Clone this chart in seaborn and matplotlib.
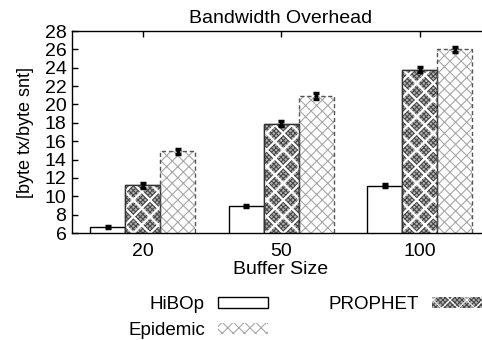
import numpy as np
import pandas as pd
import matplotlib
matplotlib.use("Agg")
import matplotlib.pyplot as plt
import seaborn as sns
from matplotlib.patches import Patch, Rectangle

buffer_sizes = ["20", "50", "100"]
protocols = ["HiBOp", "PROPHET", "Epidemic"]
hibop = [6.65, 8.9, 11.15]
prophet = [11.2, 17.9, 23.8]
epidemic = [14.9, 20.9, 26.0]
hibop_err = [0.1, 0.1, 0.15]
prophet_err = [0.25, 0.25, 0.25]
epidemic_err = [0.3, 0.3, 0.3]
yticks = list(range(6, 29, 2))

sns.set_theme(style="white")
plt.rcParams["font.family"] = ["Liberation Sans", "DejaVu Sans"]
plt.rcParams["hatch.linewidth"] = 0.8

df = pd.DataFrame({
    "Buffer Size": buffer_sizes * 3,
    "protocol": np.repeat(protocols, 3),
    "value": hibop + prophet + epidemic,
})
errs = [hibop_err, prophet_err, epidemic_err]

PROPHET_FACE = "#b0b0b0"
PROPHET_FINE = "#4a4a4a"
EPI_HATCH = "#a8a8a8"


def white_overlay(xy, w, h, z):
    r = Rectangle(xy, w, h, facecolor="none", edgecolor="white",
                  hatch="xx", linewidth=0, zorder=z)
    if hasattr(r, "set_hatch_linewidth"):
        r.set_hatch_linewidth(1.6)
    return r


fig = plt.figure(figsize=(4.82, 3.40), dpi=100)
ax = fig.add_axes([72 / 482, 1 - 233 / 340, 417 / 482, 202 / 340])

sns.barplot(data=df, x="Buffer Size", y="value", hue="protocol",
            order=buffer_sizes, hue_order=protocols, width=0.76,
            errorbar=None, palette=["white", PROPHET_FACE, "white"],
            edgecolor="black", linewidth=1, legend=False, ax=ax)

bar_containers = list(ax.containers)
for i, cont in enumerate(bar_containers):
    xs, ys = [], []
    for p in cont.patches:
        x0, w, h = p.get_x(), p.get_width(), p.get_height()
        xs.append(x0 + w / 2)
        ys.append(h)
        if i == 0:
            p.set_facecolor("white")
            p.set_edgecolor("black")
        elif i == 1:
            p.set_facecolor(PROPHET_FACE)
            p.set_edgecolor(PROPHET_FINE)
            p.set_hatch("xxxxxxx")
            ax.add_patch(white_overlay((x0, 0), w, h, p.get_zorder() + 0.1))
            ax.add_patch(Rectangle((x0, 0), w, h, facecolor="none",
                                   edgecolor="#333333", linewidth=1,
                                   zorder=p.get_zorder() + 0.2))
        else:
            p.set_facecolor("white")
            p.set_edgecolor(EPI_HATCH)
            p.set_hatch("xxx")
            p.set_linewidth(0)
            ax.add_patch(Rectangle((x0, 0), w, h, facecolor="none",
                                   edgecolor="#555555", linewidth=1,
                                   linestyle=(0, (3, 2)),
                                   zorder=p.get_zorder() + 0.2))
    ax.errorbar(xs, ys, yerr=errs[i], fmt="none", ecolor="black",
                elinewidth=2.5, capsize=2, capthick=2.5, zorder=10)

ax.set_xlim(-0.51, 2.5)
ax.set_ylim(6, 28)
ax.set_yticks(yticks)
ax.set_yticklabels([str(t) for t in yticks])
for s in ax.spines.values():
    s.set_color("black")
    s.set_linewidth(1)
ax.tick_params(axis="both", direction="in", length=4, width=1, color="black",
               labelsize=14, labelcolor="black", top=True, right=True,
               left=True, bottom=True)
ax.tick_params(axis="y", pad=4)
ax.tick_params(axis="x", pad=7)

ax.set_title("Bandwidth Overhead", fontsize=14, color="black", pad=6)
ax.set_xlabel("Buffer Size", fontsize=14, color="black")
ax.set_ylabel("[byte tx/byte snt]", fontsize=13, color="black")
ax.xaxis.set_label_coords(0.5, -0.137)
ax.yaxis.set_label_coords(-0.092, 0.5)

h_hibop = Patch(facecolor="white", edgecolor="black", linewidth=1)
h_prophet = (Patch(facecolor=PROPHET_FACE, edgecolor=PROPHET_FINE, hatch="xxxxxxx", linewidth=0),
             white_overlay((0, 0), 1, 1, 1))
h_epi = Patch(facecolor="white", edgecolor=EPI_HATCH, hatch="xxx", linewidth=0)

fig.legend(handles=[h_hibop, h_epi, h_prophet],
           labels=["HiBOp", "Epidemic", "PROPHET"],
           ncol=2, markerfirst=False, frameon=False, loc="upper left",
           bbox_to_anchor=(128 / 482, 1 - 296 / 340),
           bbox_transform=fig.transFigure, borderpad=0, borderaxespad=0,
           handlelength=2.67, handleheight=0.53, handletextpad=0.7,
           columnspacing=3.2, labelspacing=0.5, fontsize=13.5,
           labelcolor="black")

fig.savefig("out.png", dpi=100)
